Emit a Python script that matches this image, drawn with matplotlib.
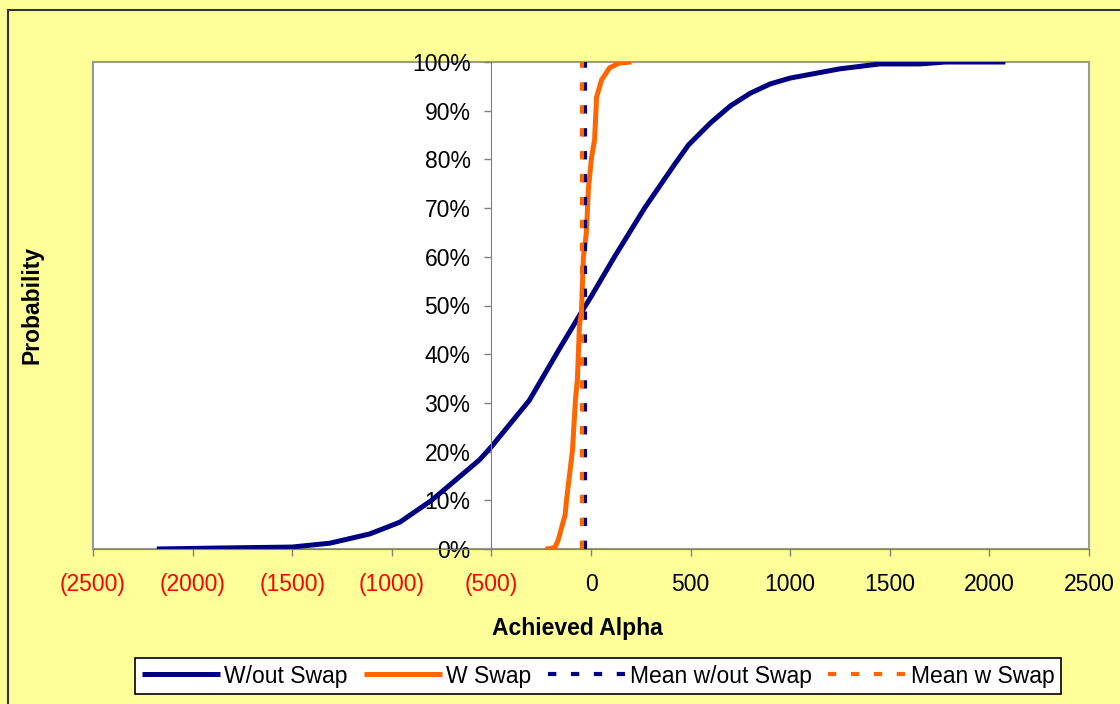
import matplotlib.pyplot as plt
import numpy as np
from matplotlib.patches import Rectangle

plt.rcParams['font.family'] = ['Liberation Sans', 'DejaVu Sans']

# CDF without swap (navy)
x_wout = [-2180, -1870, -1500, -1310, -1110, -960, -800, -710, -560, -500, -400,
          -310, -260, -160, -50, 0, 118, 269, 420, 490, 600, 700, 800, 900,
          1000, 1250, 1450, 1650, 1780, 2080]
p_wout = [0.0, 0.002, 0.004, 0.012, 0.031, 0.055, 0.10, 0.131, 0.183, 0.21, 0.26,
          0.305, 0.34, 0.41, 0.485, 0.518, 0.60, 0.70, 0.79, 0.83, 0.875, 0.91, 0.936, 0.955,
          0.967, 0.986, 0.996, 0.996, 1.0, 1.0]

# CDF with swap (orange)
x_w = [-229, -200, -180, -165, -130, -123, -93, -78, -68, -58, -48, -38, -23, -13,
       3, 18, 28, 53, 93, 143, 203]
p_w = [0.0, 0.001, 0.004, 0.018, 0.07, 0.10, 0.203, 0.306, 0.35, 0.46, 0.485, 0.60, 0.65, 0.74,
       0.805, 0.84, 0.928, 0.963, 0.988, 0.998, 1.0]

mean_wout = -28
mean_w = -45

xticks = [-2500, -2000, -1500, -1000, -500, 0, 500, 1000, 1500, 2000, 2500]
yticks = [0, 0.1, 0.2, 0.3, 0.4, 0.5, 0.6, 0.7, 0.8, 0.9, 1.0]

navy = '#000080'
orange = '#FF6600'
bg = '#FFFF99'
fs = 16.5

fig = plt.figure(figsize=(11.2, 7.04), dpi=100, facecolor=bg)
ax = fig.add_axes([93/1120, 1-549/704, (1089-93)/1120, (549-62)/704])

ax.plot(x_wout, p_wout, color=navy, lw=3.6, label='W/out Swap', solid_capstyle='butt')
ax.plot(x_w, p_w, color=orange, lw=3.6, label='W Swap', solid_capstyle='butt')
ax.plot([mean_wout, mean_wout], [0, 1], color=navy, lw=3, dashes=(2, 3.5), label='Mean w/out Swap')
ax.plot([mean_w, mean_w], [0, 1], color=orange, lw=3, dashes=(2, 3.5), label='Mean w Swap')

ax.set_xlim(-2500, 2500)
ax.set_ylim(0, 1)

for s in ['top', 'right']:
    ax.spines[s].set_visible(False)
ax.spines['left'].set_position(('data', -500))
ax.spines['left'].set_color('#808080')
ax.spines['bottom'].set_color('#808080')
ax.add_patch(Rectangle((0, 0), 1, 1, transform=ax.transAxes, fill=False,
                       ec='#999999', lw=1.5, clip_on=False, zorder=0.5))

ax.set_xticks(xticks)
ax.set_xticklabels(['(%d)' % -v if v < 0 else '%d' % v for v in xticks])
for lab, v in zip(ax.get_xticklabels(), xticks):
    lab.set_color('red' if v < 0 else 'black')
ax.set_yticks(yticks)
ax.set_yticklabels(['%d%%' % round(v * 100) for v in yticks])
ax.tick_params(axis='both', labelsize=fs, length=5, color='#808080', width=1)
ax.tick_params(axis='y', pad=10)
ax.tick_params(axis='x', pad=12)

fig.text(577/1120, 1-629/704, 'Achieved Alpha', ha='center', va='center',
         fontsize=fs, fontweight='bold')
fig.text(32/1120, 1-305/704, 'Probability', ha='center', va='center',
         fontsize=fs, fontweight='bold', rotation=90)

leg = fig.legend(loc='center', bbox_to_anchor=(598/1120, 1-676/704), ncol=4,
                 fontsize=fs, handlelength=3.4, handletextpad=0.2, columnspacing=0.7,
                 fancybox=False, framealpha=1, edgecolor='black', borderpad=0.3)
leg.get_frame().set_linewidth(1.2)

fig.add_artist(Rectangle((8/1120, -0.1), 1.2, 1.1 - 10/704, transform=fig.transFigure,
                         fill=False, ec='#333333', lw=1.5))

fig.savefig('out.png', dpi=100, facecolor=bg)
